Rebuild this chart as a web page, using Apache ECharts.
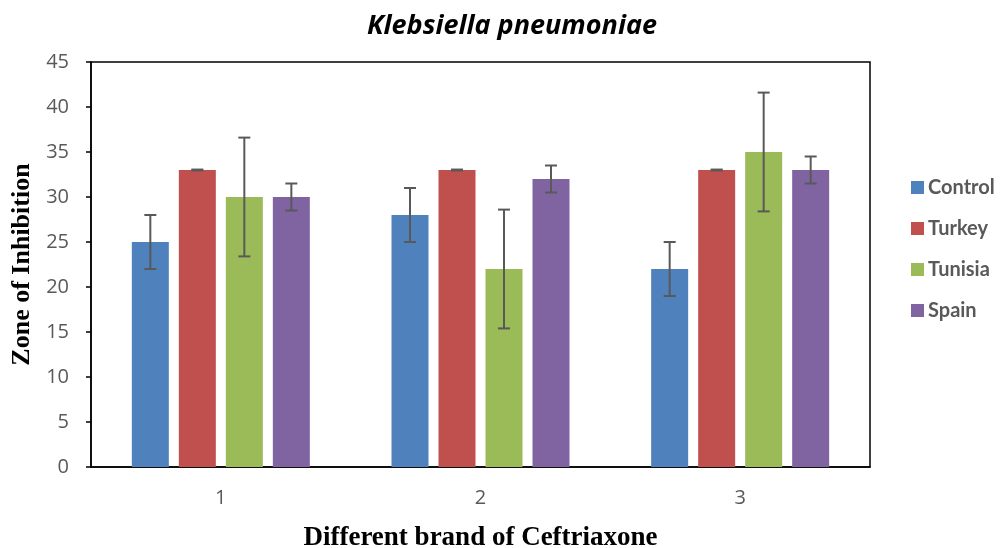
<!DOCTYPE html>
<html>
<head>
<meta charset="utf-8">
<script src="https://cdn.jsdelivr.net/npm/echarts@6/dist/echarts.min.js"></script>
<style>html,body{margin:0;padding:0;background:#fff}#c{width:1003px;height:548px}</style>
</head>
<body>
<div id="c"></div>
<script>
const categories = ['1', '2', '3'];
const seriesNames = ['Control', 'Turkey', 'Tunisia', 'Spain'];
const control = [25, 28, 22];
const turkey = [33, 33, 33];
const tunisia = [30, 22, 35];
const spain = [30, 32, 33];
const controlErr = [3, 3, 3];
const turkeyErr = [0.05, 0.05, 0.05];
const tunisiaErr = [6.6, 6.6, 6.6];
const spainErr = [1.5, 1.5, 1.5];
const yTicks = [0, 5, 10, 15, 20, 25, 30, 35, 40, 45];

const values = [control, turkey, tunisia, spain];
const errs = [controlErr, turkeyErr, tunisiaErr, spainErr];
const colors = ['#4F81BD', '#C0504D', '#9BBB59', '#8064A2'];
const BAR_W = 37, BAR_GAP = 10;

const chart = echarts.init(document.getElementById('c'));
const series = [];
seriesNames.forEach((name, i) => {
  series.push({
    name: name, type: 'bar', data: values[i], barWidth: BAR_W, barGap: (BAR_GAP / BAR_W * 100) + '%',
    itemStyle: { color: colors[i] }, z: 2
  });
});
seriesNames.forEach((name, i) => {
  series.push({
    type: 'custom', name: name + ' err', silent: true, z: 5,
    data: values[i].map((v, k) => [k, v - errs[i][k], v + errs[i][k]]),
    renderItem: function (params, api) {
      const k = api.value(0);
      const lo = api.coord([k, api.value(1)]);
      const hi = api.coord([k, api.value(2)]);
      const total = 4 * BAR_W + 3 * BAR_GAP;
      const x = lo[0] - total / 2 + i * (BAR_W + BAR_GAP) + BAR_W / 2;
      const cap = 6;
      const st = { stroke: '#595959', lineWidth: 2 };
      return { type: 'group', children: [
        { type: 'line', shape: { x1: x, y1: lo[1], x2: x, y2: hi[1] }, style: st },
        { type: 'line', shape: { x1: x - cap, y1: lo[1], x2: x + cap, y2: lo[1] }, style: st },
        { type: 'line', shape: { x1: x - cap, y1: hi[1], x2: x + cap, y2: hi[1] }, style: st }
      ]};
    }
  });
});

chart.setOption({
  animation: false,
  title: {
    text: 'Klebsiella pneumoniae', left: 507, top: 8, textAlign: 'center',
    textStyle: { fontFamily: 'Open Sans', fontStyle: 'italic', fontWeight: 'bold', fontSize: 27, color: '#000' }
  },
  legend: {
    data: seriesNames, orient: 'vertical', left: 911, top: 177, padding: 0, itemWidth: 13, itemHeight: 13, itemGap: 20,
    icon: 'rect',
    textStyle: { fontFamily: 'Lato', fontWeight: 'bold', fontSize: 20, lineHeight: 21, color: '#595959', padding: [0, 0, 0, -1] }
  },
  grid: { left: 91, right: 133, top: 62, bottom: 81, outerBoundsMode: 'none', containLabel: false, show: true, borderColor: '#000', borderWidth: 1.5, backgroundColor: 'transparent' },
  xAxis: {
    type: 'category', data: categories,
    name: 'Different brand of Ceftriaxone', nameLocation: 'middle', nameGap: 58,
    nameTextStyle: { fontFamily: 'Liberation Serif', fontWeight: 'bold', fontSize: 27, color: '#000' },
    axisLine: { lineStyle: { color: '#000', width: 1.5 } },
    axisTick: { show: false },
    axisLabel: { margin: 21, fontFamily: 'Open Sans', fontSize: 20, color: '#595959' }
  },
  yAxis: {
    type: 'value', min: yTicks[0], max: yTicks[yTicks.length - 1], interval: yTicks[1] - yTicks[0],
    name: 'Zone of Inhibition', nameLocation: 'middle', nameGap: 55,
    nameTextStyle: { fontFamily: 'Liberation Serif', fontWeight: 'bold', fontSize: 26, color: '#000' },
    axisLine: { show: true, lineStyle: { color: '#000', width: 1.5 } },
    axisTick: { show: true, length: 5, lineStyle: { color: '#000', width: 1.5 } },
    axisLabel: { margin: 22, fontFamily: 'Open Sans', fontSize: 20, color: '#595959' },
    splitLine: { show: false }
  },
  series: series
});
</script>
</body>
</html>
